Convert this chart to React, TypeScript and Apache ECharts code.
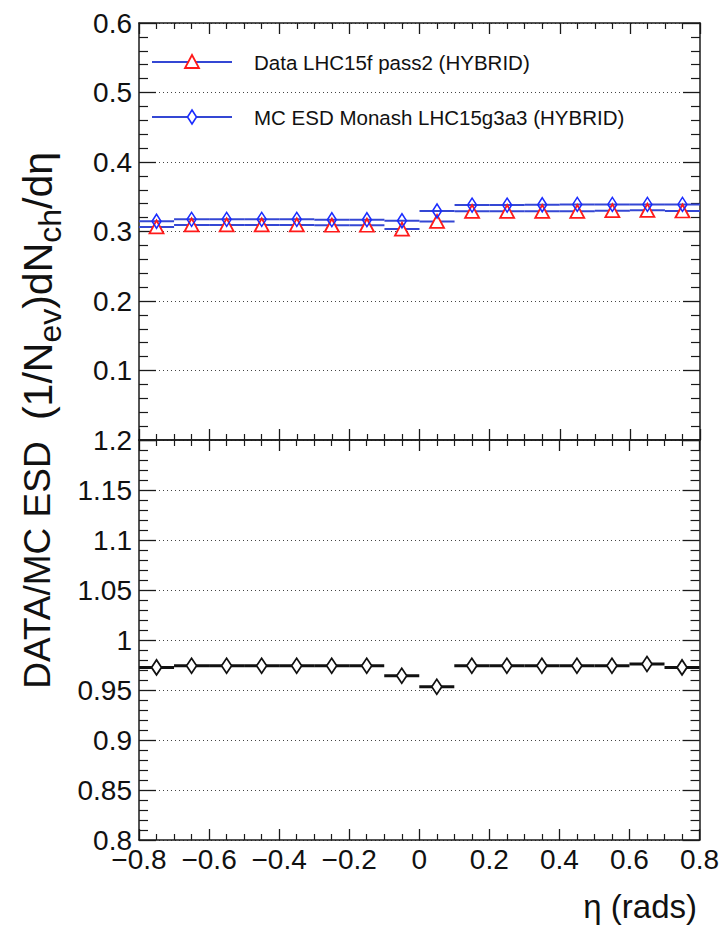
import React, { useEffect, useRef } from "react";
import * as echarts from "echarts";

// ---- data ----
const etaCenters = [-0.75, -0.65, -0.55, -0.45, -0.35, -0.25, -0.15, -0.05, 0.05, 0.15, 0.25, 0.35, 0.45, 0.55, 0.65, 0.75];
const binHalfWidth = 0.05;
const dataValues = [0.3065, 0.3095, 0.3095, 0.3095, 0.3095, 0.309, 0.309, 0.3035, 0.3145, 0.329, 0.329, 0.329, 0.329, 0.33, 0.3305, 0.3295];
const mcValues = [0.3148, 0.3175, 0.3175, 0.3175, 0.3175, 0.317, 0.317, 0.3155, 0.3295, 0.338, 0.338, 0.3385, 0.339, 0.339, 0.339, 0.339];
const ratioValues = [0.9726, 0.9743, 0.9743, 0.9743, 0.9743, 0.9743, 0.9743, 0.9643, 0.9533, 0.9743, 0.9743, 0.9743, 0.9743, 0.9743, 0.976, 0.9726];
const legendNames = ["Data LHC15f pass2 (HYBRID)", "MC ESD Monash LHC15g3a3 (HYBRID)"];

const FONT = "Liberation Sans, Arial, Helvetica, sans-serif";
const BLUE_LINE = "#3447d4";
const BLUE_MARK = "#1a2cff";
const RED = "#ff1a1a";
const FRAME = "#1a1a1a";

function pairs(vals: number[]) {
  return etaCenters.map((x, i) => [x, vals[i]]);
}

function hLineSeries(name: string, vals: number[], gi: number, color: string, width: number) {
  return {
    name,
    type: "custom",
    xAxisIndex: gi * 2,
    yAxisIndex: gi * 2,
    data: pairs(vals),
    encode: { x: 0, y: 1 },
    silent: true,
    renderItem: (params: any, api: any) => {
      const x = api.value(0);
      const y = api.value(1);
      const p1 = api.coord([x - binHalfWidth, y]);
      const p2 = api.coord([x + binHalfWidth, y]);
      return {
        type: "line",
        shape: { x1: p1[0], y1: p1[1], x2: p2[0], y2: p2[1] },
        style: { stroke: color, lineWidth: width },
      };
    },
  };
}

function markSeries(name: string, vals: number[], gi: number, symbol: string, size: number[], fill: string, border: string, bw: number) {
  return {
    name,
    type: "scatter",
    xAxisIndex: gi * 2,
    yAxisIndex: gi * 2,
    data: pairs(vals),
    symbol,
    symbolSize: size,
    silent: true,
    itemStyle: { color: fill, borderColor: border, borderWidth: bw, opacity: 1 },
  };
}

const GRID_LEFT = 139;
const GRID_RIGHT = 22;

function xAxes(gi: number, withLabels: boolean) {
  const common = {
    type: "value",
    gridIndex: gi,
    min: -0.8,
    max: 0.8,
    interval: 0.2,
    axisLine: { show: true, onZero: false, lineStyle: { color: FRAME, width: 1.5 } },
    axisTick: { show: true, inside: true, length: 11, lineStyle: { color: FRAME, width: 1.3 } },
    minorTick: { show: true, splitNumber: 4, length: 6, lineStyle: { color: FRAME, width: 1.2 } },
    splitLine: { show: false },
    minorSplitLine: { show: false },
  };
  return [
    {
      ...common,
      position: "bottom",
      axisLabel: withLabels
        ? {
            show: true,
            margin: 5,
            fontFamily: FONT,
            fontSize: 28,
            color: "#111",
            formatter: (v: number) => (Math.abs(v) < 1e-9 ? "0" : v.toFixed(1).replace("-", "\u2212")),
          }
        : { show: false },
    },
    { ...common, position: "top", axisLabel: { show: false } },
  ];
}

function yAxes(gi: number, min: number, max: number, interval: number, fmt: (v: number) => string) {
  const common = {
    type: "value",
    gridIndex: gi,
    min,
    max,
    interval,
    axisLine: { show: true, onZero: false, lineStyle: { color: FRAME, width: 1.5 } },
    axisTick: { show: true, inside: true, length: 17, lineStyle: { color: FRAME, width: 1.3 } },
    minorTick: { show: true, splitNumber: 5, length: 9, lineStyle: { color: FRAME, width: 1.2 } },
    minorSplitLine: { show: false },
  };
  return [
    {
      ...common,
      position: "left",
      splitLine: { show: true, lineStyle: { color: "#444", width: 1, type: [1, 3] } },
      axisLabel: { show: true, margin: 7, fontFamily: FONT, fontSize: 28, color: "#111", formatter: fmt },
    },
    { ...common, position: "right", splitLine: { show: false }, axisLabel: { show: false } },
  ];
}

export default function App() {
  const ref = useRef<HTMLDivElement>(null);
  useEffect(() => {
    document.body.style.margin = "0";
    if (!ref.current) return;
    const chart = echarts.init(ref.current, undefined, { renderer: "svg" });
    const legendY1 = 62;
    const legendY2 = 117;
    const mx = 192;
    chart.setOption({
      animation: false,
      backgroundColor: "#ffffff",
      grid: [
        { left: GRID_LEFT, right: GRID_RIGHT, top: 23, height: 417 },
        { left: GRID_LEFT, right: GRID_RIGHT, top: 440, height: 400 },
      ],
      xAxis: [...xAxes(0, false), ...xAxes(1, true)],
      yAxis: [
        ...yAxes(0, 0, 0.6, 0.1, (v: number) => (v < 0.05 ? "" : v.toFixed(1))),
        ...yAxes(1, 0.8, 1.2, 0.05, (v: number) => String(Math.round(v * 100) / 100)),
      ],
      series: [
        hLineSeries(legendNames[0], dataValues, 0, BLUE_LINE, 2),
        markSeries(legendNames[0] + " m", dataValues, 0, "triangle", [14, 13], "#ffffff", RED, 1.8),
        hLineSeries(legendNames[1], mcValues, 0, BLUE_LINE, 2),
        markSeries(legendNames[1] + " m", mcValues, 0, "diamond", [9, 14], "transparent", BLUE_MARK, 1.6),
        hLineSeries("ratio", ratioValues, 1, "#111", 3),
        markSeries("ratio m", ratioValues, 1, "diamond", [10, 15], "#ffffff", "#111", 1.8),
      ],
      graphic: [
        { type: "line", shape: { x1: 152, y1: legendY1, x2: 232, y2: legendY1 }, style: { stroke: BLUE_LINE, lineWidth: 2 } },
        {
          type: "polygon",
          shape: { points: [[mx, legendY1 - 7], [mx + 7, legendY1 + 6], [mx - 7, legendY1 + 6]] },
          style: { stroke: RED, fill: "#ffffff", lineWidth: 1.8 },
        },
        {
          type: "text",
          x: 254,
          y: legendY1,
          style: { text: legendNames[0], fontFamily: FONT, fontSize: 20.5, fill: "#111", verticalAlign: "middle", align: "left" },
        },
        { type: "line", shape: { x1: 152, y1: legendY2, x2: 232, y2: legendY2 }, style: { stroke: BLUE_LINE, lineWidth: 2 } },
        {
          type: "polygon",
          shape: { points: [[mx, legendY2 - 7], [mx + 4.5, legendY2], [mx, legendY2 + 7], [mx - 4.5, legendY2]] },
          style: { stroke: BLUE_MARK, fill: "#ffffff", lineWidth: 1.6 },
        },
        {
          type: "text",
          x: 254,
          y: legendY2,
          style: { text: legendNames[1], fontFamily: FONT, fontSize: 20.5, fill: "#111", verticalAlign: "middle", align: "left" },
        },
        {
          type: "text",
          x: 38,
          y: 286,
          rotation: Math.PI / 2,
          style: {
            text: "{m|(1/N}{s|ev}{m|)dN}{s|ch}{m|/d\u03b7}",
            align: "center",
            verticalAlign: "middle",
            fill: "#111",
            rich: {
              m: { fontFamily: FONT, fontSize: 41, fill: "#111" },
              s: { fontFamily: FONT, fontSize: 32, fill: "#111", padding: [24, 0, 0, 0] },
            },
          },
        },
        {
          type: "text",
          x: 37,
          y: 565,
          rotation: Math.PI / 2,
          style: { text: "DATA/MC ESD", fontFamily: FONT, fontSize: 37, fill: "#111", align: "center", verticalAlign: "middle" },
        },
        {
          type: "text",
          x: 697,
          y: 906,
          style: { text: "\u03b7 (rads)", fontFamily: FONT, fontSize: 33, fill: "#111", align: "right", verticalAlign: "middle" },
        },
      ],
    });
    return () => chart.dispose();
  }, []);
  return <div ref={ref} style={{ width: 722, height: 928 }} />;
}
